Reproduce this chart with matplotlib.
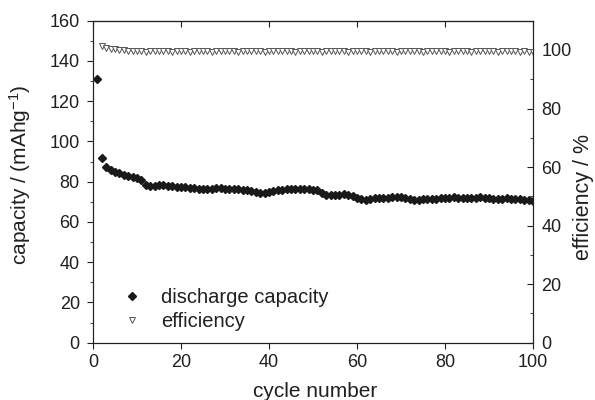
import matplotlib
matplotlib.use("Agg")
import matplotlib.pyplot as plt
from matplotlib.ticker import MultipleLocator

plt.rcParams['font.family'] = ['Liberation Sans', 'DejaVu Sans']
plt.rcParams['mathtext.default'] = 'regular'
plt.rcParams['text.color'] = '#231f20'
plt.rcParams['xtick.color'] = '#231f20'
plt.rcParams['ytick.color'] = '#231f20'
plt.rcParams['axes.labelcolor'] = '#231f20'
plt.rcParams['axes.edgecolor'] = '#231f20'

cap_cycles = list(range(1, 101))
capacity = [131, 92, 87.5, 86, 85, 84.5, 83.5, 83, 82.5, 82,
            81, 78.5, 78, 78, 78.5, 78.5, 78, 78, 77.5, 77.5,
            77.5, 77, 77, 76.5, 76.5, 76.5, 76.5, 77, 77, 76.5,
            76.5, 76.5, 76.5, 76, 76, 75.5, 75, 74.5, 74.5, 75,
            75.5, 76, 76, 76.5, 76.5, 76.5, 76.5, 76.5, 76.5, 76,
            76, 74.5, 73.5, 73.5, 73.5, 73.5, 74, 73.5, 73, 72,
            71.5, 71, 71.5, 72, 72, 72, 72, 72.5, 72.5, 72.5,
            72, 71.5, 71, 71, 71.5, 71.5, 71.5, 71.5, 72, 72,
            72, 72.5, 72, 72, 72, 72, 72, 72.5, 72, 72,
            71.5, 71.5, 71.5, 72, 71.5, 71.5, 71.5, 71, 71, 70.5]

eff_cycles = list(range(2, 101))
efficiency = [101.2, 100.8, 100.5, 100.2, 100.0, 99.9, 99.8, 99.7, 99.6,
              99.5, 99.4, 99.5, 99.5, 99.6, 99.5, 99.5, 99.4, 99.5, 99.5,
              99.5, 99.4, 99.5, 99.5, 99.5, 99.5, 99.4, 99.5, 99.5, 99.5,
              99.5, 99.5, 99.4, 99.5, 99.5, 99.5, 99.5, 99.5, 99.4, 99.5,
              99.5, 99.5, 99.5, 99.5, 99.5, 99.4, 99.5, 99.5, 99.5, 99.5,
              99.5, 99.4, 99.5, 99.5, 99.5, 99.5, 99.5, 99.4, 99.5, 99.5,
              99.5, 99.5, 99.4, 99.5, 99.5, 99.5, 99.5, 99.5, 99.4, 99.5,
              99.5, 99.5, 99.5, 99.5, 99.4, 99.5, 99.5, 99.5, 99.5, 99.5,
              99.4, 99.5, 99.5, 99.5, 99.5, 99.4, 99.5, 99.5, 99.5, 99.5,
              99.5, 99.4, 99.5, 99.5, 99.5, 99.5, 99.4, 99.5, 99.4, 99.4]

fig = plt.figure(figsize=(5.95, 4.0), dpi=100)
ax = fig.add_axes([93/595, 1 - 342.7/400, 440/595, 322/400])
ax2 = ax.twinx()

l1, = ax.plot(cap_cycles, capacity, linestyle='none', marker='D', markersize=3.8,
              color='#1a1a1a', label='discharge capacity')
l2, = ax2.plot(eff_cycles, efficiency, linestyle='none', marker='v', markersize=5,
               markerfacecolor='white', markeredgecolor='#555555', markeredgewidth=0.7,
               label='efficiency')

ax.set_xlim(0, 100)
ax.set_ylim(0, 160)
ax2.set_ylim(0, 110)
ax.xaxis.set_major_locator(MultipleLocator(20))
ax.yaxis.set_major_locator(MultipleLocator(20))
ax.yaxis.set_minor_locator(MultipleLocator(10))
ax2.yaxis.set_major_locator(MultipleLocator(20))
ax2.yaxis.set_minor_locator(MultipleLocator(10))

tick_fs = 13
ax.tick_params(axis='x', which='major', direction='out', top=False, labelsize=tick_fs,
               length=4, pad=4)
ax.tick_params(axis='y', which='major', direction='out', right=False, labelsize=tick_fs,
               length=4.5, pad=5)
ax.tick_params(axis='y', which='minor', direction='out', right=False, length=2)
ax2.tick_params(axis='y', which='major', direction='in', labelsize=tick_fs, length=4.5, pad=6)
ax2.tick_params(axis='y', which='minor', direction='in', length=2)

top = ax.secondary_xaxis('top')
top.xaxis.set_major_locator(MultipleLocator(20))
top.tick_params(axis='x', direction='in', length=4, labeltop=False)

lab_fs = 15
ax.set_xlabel('cycle number', fontsize=lab_fs, va='center')
ax.xaxis.set_label_coords(0.5045, -0.153)
ax.set_ylabel('capacity / (mAhg$^{-1}$)', fontsize=lab_fs, va='center')
ax.yaxis.set_label_coords(-0.166, 0.521)
ax2.set_ylabel('efficiency / %', fontsize=15.5, va='center')
ax2.yaxis.set_label_coords(1.114, 0.451)

ax.legend([l1, l2], ['discharge capacity', 'efficiency'], loc='center left',
          bbox_to_anchor=(0.066, 0.103), frameon=False, fontsize=14.5,
          handlelength=1.0, handletextpad=0.94, borderaxespad=0, borderpad=0,
          labelspacing=0.22)

fig.savefig('out.png', dpi=100)
